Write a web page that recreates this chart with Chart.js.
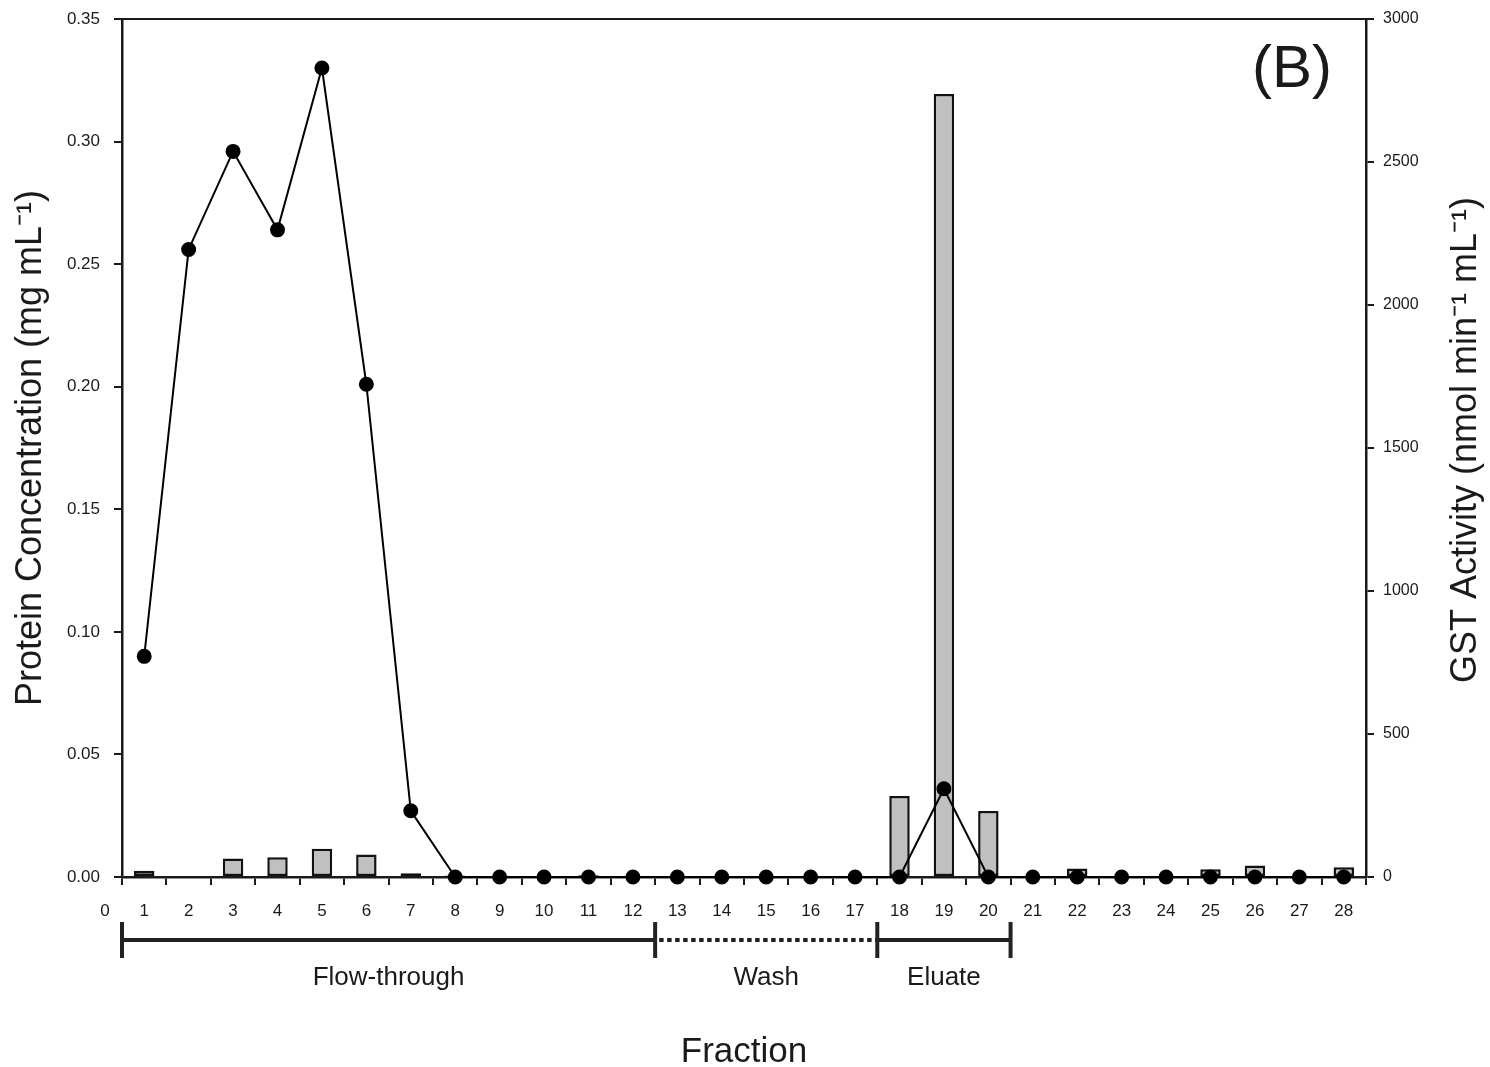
<!DOCTYPE html>
<html>
<head>
<meta charset="utf-8">
<script src="https://cdn.jsdelivr.net/npm/chart.js@4.4.1/dist/chart.umd.min.js"></script>
<style>
  body { margin: 0; background: #fff; }
  canvas { display: block; }
</style>
</head>
<body>
<canvas id="fractions" width="1490" height="1067"></canvas>
<script>
// fraction numbers on the x axis
const fractions = ['1','2','3','4','5','6','7','8','9','10','11','12','13','14',
  '15','16','17','18','19','20','21','22','23','24','25','26','27','28'];
// protein concentration, mg/mL (line, left axis)
const protein = [0.090, 0.256, 0.296, 0.264, 0.330, 0.201, 0.027, 0.000, 0.000, 0.000,
  0.000, 0.000, 0.000, 0.000, 0.000, 0.000, 0.000, 0.000, 0.036, 0.000,
  0.000, 0.000, 0.000, 0.000, 0.000, 0.000, 0.000, 0.000];
// GST activity, nmol/min/mL (bars, right axis)
const gstActivity = [22, 0, 65, 69, 99, 79, 13, 5, 3, 0,
  6, 3, 0, 0, 0, 0, 0, 283, 2738, 231,
  0, 30, 0, 0, 27, 40, 0, 34];
// purification phases under the axis
const phases = ['Flow-through', 'Wash', 'Eluate'];
const phaseFirst = [1, 13, 18];
const phaseLast = [12, 17, 20];

const ink = '#1a1a1a';
const font = "Arial, 'Liberation Sans', sans-serif";

// let layout.padding alone decide the top/bottom of the plot
const noPad = s => { s.paddingTop = 0; s.paddingBottom = 0; };

const extras = {
  id: 'extras',
  afterDraw(chart) {
    const ctx = chart.ctx;
    const area = chart.chartArea;
    const x = chart.scales.x;
    const half = (x.getPixelForValue(1) - x.getPixelForValue(0)) / 2;
    ctx.save();
    // top frame line
    ctx.strokeStyle = ink;
    ctx.lineWidth = 2;
    ctx.beginPath();
    ctx.moveTo(area.left - 8, area.top);
    ctx.lineTo(area.right + 8, area.top);
    ctx.stroke();

    ctx.fillStyle = ink;
    // the stray "0" at the start of the fraction axis
    ctx.font = '17px ' + font;
    ctx.textAlign = 'center';
    ctx.textBaseline = 'middle';
    ctx.fillText('0', area.left - 17, x.top + 34);

    // phase brackets
    const lineY = area.bottom + 63;
    ctx.lineWidth = 4;
    ctx.strokeStyle = '#222';
    phases.forEach((name, i) => {
      const x1 = x.getPixelForValue(phaseFirst[i] - 1) - half;
      const x2 = x.getPixelForValue(phaseLast[i] - 1) + half;
      const dotted = name === 'Wash';
      ctx.setLineDash(dotted ? [4.5, 3.5] : []);
      ctx.beginPath();
      ctx.moveTo(dotted ? x1 + 4 : x1, lineY);
      ctx.lineTo(x2, lineY);
      ctx.stroke();
      ctx.setLineDash([]);
      if (!dotted) {
        ctx.beginPath();
        ctx.moveTo(x1, lineY - 18); ctx.lineTo(x1, lineY + 18);
        ctx.moveTo(x2, lineY - 18); ctx.lineTo(x2, lineY + 18);
        ctx.stroke();
      }
      ctx.font = '26px ' + font;
      ctx.textBaseline = 'middle';
      ctx.fillText(name, (x1 + x2) / 2, area.bottom + 101);
    });

    // panel letter
    ctx.font = '60px ' + font;
    ctx.textAlign = 'center';
    ctx.textBaseline = 'middle';
    ctx.fillText('(B)', 1292, 70);

    // right axis title, reading bottom to top like the left one
    ctx.translate(1466, (area.top + area.bottom) / 2 - 8);
    ctx.rotate(-Math.PI / 2);
    ctx.font = '36px ' + font;
    ctx.fillText('GST Activity (nmol min\u207B\u00B9 mL\u207B\u00B9)', 0, 0);
    ctx.restore();
  }
};

const ctx = document.getElementById('fractions').getContext('2d');
const chart = new Chart(ctx, {
  data: {
    labels: fractions,
    datasets: [{
      type: 'line',
      label: 'Protein',
      data: protein,
      yAxisID: 'yProtein',
      borderColor: '#000',
      borderWidth: 2,
      pointRadius: 6.5,
      pointBackgroundColor: '#000',
      pointBorderColor: '#000',
      tension: 0,
      clip: false,
      order: 0
    }, {
      type: 'bar',
      label: 'GST',
      data: gstActivity,
      yAxisID: 'yGst',
      backgroundColor: '#c0c0c0',
      borderColor: '#111',
      borderWidth: 2.5,
      borderSkipped: false,
      categoryPercentage: 1,
      barPercentage: 0.46,
      order: 1
    }]
  },
  options: {
    responsive: false,
    animation: false,
    layout: { padding: { top: 19, left: 0, right: 0, bottom: 0 } },
    plugins: { legend: { display: false }, tooltip: { enabled: false } },
    scales: {
      x: {
        type: 'category',
        offset: true,
        afterFit: s => { s.height = 190; s.paddingLeft = 0; s.paddingRight = 0; },
        grid: { offset: true, drawOnChartArea: false, tickLength: 8, color: ink, lineWidth: 2 },
        border: { color: ink, width: 2.5 },
        ticks: { color: ink, font: { size: 17, family: font }, padding: 16, maxRotation: 0, autoSkip: false },
        title: { display: true, text: 'Fraction', color: ink, font: { size: 35, family: font }, padding: { top: 0, bottom: -6 } }
      },
      yProtein: {
        position: 'left',
        min: 0,
        max: 0.35,
        afterFit: s => { s.width = 122; noPad(s); },
        grid: { drawOnChartArea: false, tickLength: 8, color: ink, lineWidth: 2 },
        border: { color: ink, width: 2.5 },
        ticks: { stepSize: 0.05, color: ink, font: { size: 17, family: font }, padding: 14,
          callback: v => v.toFixed(2) },
        title: { display: true, text: 'Protein Concentration (mg mL\u207B\u00B9)', color: ink,
          font: { size: 36, family: font }, padding: { top: 9, bottom: 0 } }
      },
      yGst: {
        position: 'right',
        min: 0,
        max: 3000,
        afterFit: s => { s.width = 124; noPad(s); },
        grid: { drawOnChartArea: false, tickLength: 8, color: ink, lineWidth: 2 },
        border: { color: ink, width: 2.5 },
        ticks: { stepSize: 500, color: ink, font: { size: 16, family: font }, padding: 9,
          callback: v => String(v) }
      }
    }
  },
  plugins: [extras]
});
</script>
</body>
</html>
